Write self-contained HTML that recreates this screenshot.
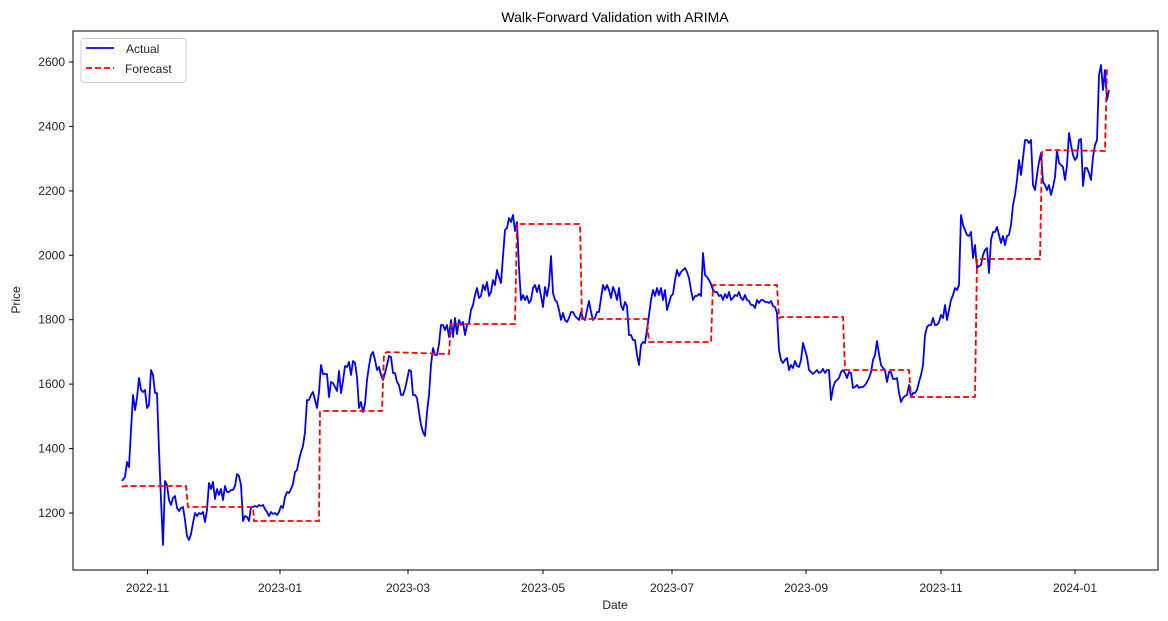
<!DOCTYPE html>
<html><head><meta charset="utf-8"><style>
html,body{margin:0;padding:0;background:#fff;}
svg{display:block;font-family:"Liberation Sans","Noto Sans CJK JP",sans-serif;}
</style></head><body>
<svg width="1168" height="621" viewBox="0 0 1168 621" xmlns="http://www.w3.org/2000/svg">
<rect width="1168" height="621" fill="#fff"/>
<text x="615" y="22" font-size="14" text-anchor="middle" fill="#000">Walk-Forward Validation with ARIMA</text>
<g stroke="#000" stroke-width="1">
<line x1="147.5" y1="570" x2="147.5" y2="574"/><line x1="280" y1="570" x2="280" y2="574"/><line x1="408" y1="570" x2="408" y2="574"/><line x1="543" y1="570" x2="543" y2="574"/><line x1="672" y1="570" x2="672" y2="574"/><line x1="806" y1="570" x2="806" y2="574"/><line x1="941" y1="570" x2="941" y2="574"/><line x1="1075" y1="570" x2="1075" y2="574"/>
<line x1="69" y1="62" x2="73" y2="62"/><line x1="69" y1="126.4" x2="73" y2="126.4"/><line x1="69" y1="190.9" x2="73" y2="190.9"/><line x1="69" y1="255.3" x2="73" y2="255.3"/><line x1="69" y1="319.7" x2="73" y2="319.7"/><line x1="69" y1="384.1" x2="73" y2="384.1"/><line x1="69" y1="448.6" x2="73" y2="448.6"/><line x1="69" y1="513" x2="73" y2="513"/>
</g>
<g font-size="12" fill="#222" text-anchor="middle">
<text x="147.5" y="592">2022-11</text><text x="280" y="592">2023-01</text><text x="408" y="592">2023-03</text><text x="543" y="592">2023-05</text><text x="672" y="592">2023-07</text><text x="806" y="592">2023-09</text><text x="941" y="592">2023-11</text><text x="1075" y="592">2024-01</text>
</g>
<g font-size="12" fill="#222" text-anchor="end">
<text x="65" y="66">2600</text><text x="65" y="130.4">2400</text><text x="65" y="194.9">2200</text><text x="65" y="259.3">2000</text><text x="65" y="323.7">1800</text><text x="65" y="388.1">1600</text><text x="65" y="452.6">1400</text><text x="65" y="517">1200</text>
</g>
<text x="615" y="609" font-size="12" text-anchor="middle" fill="#222">Date</text>
<text x="20" y="300" font-size="12" text-anchor="middle" fill="#222" transform="rotate(-90 20 300)">Price</text>
<polyline fill="none" stroke="#0000ff" stroke-width="1.8" stroke-linejoin="round" points="122,481 125,477 127,462 129,467 131,430 133,395 135,410 137,398 139,378 141,390 143,392 145,390 147,408 149,405 151,370 153,375 155,393 157,393 159,450 161,500 163,545 165,481 167,485 169,500 171,505 173,498 175,496 177,508 179,511 181,508 183,507 185,520 187,536 189,540 191,534 193,523 195,513 197,516 199,513 201,514 203,512 205,522 207,510 209,483 211,489 213,482 215,499 217,489 219,495 221,489 223,500 225,486 227,492 229,492 231,490 233,490 235,486 237,474 239,476 241,485 243,521 245,516 247,517 249,521 251,507 253,507 255,506 257,507 259,505 261,506 263,505 265,509 267,512 269,516 271,512 273,514 275,513 277,515 279,512 281,506 283,508 285,497 287,492 289,493 291,489 293,484 295,472 297,470 299,460 301,452 303,446 305,432 307,400 309,400 311,395 313,392 315,400 317,408 319,392 321,365 323,374 325,374 327,374 329,397 331,382 333,383 335,387 337,391 339,371 341,393 343,381 345,366 347,367 349,362 351,375 353,361 355,363 357,377 359,408 361,402 363,412 365,404 367,380 369,366 371,355 373,352 375,360 377,370 379,367 381,375 383,380 385,373 387,365 389,356 391,357 393,373 395,373 397,382 399,385 401,395 403,395 405,389 407,380 409,370 411,371 413,395 415,395 417,398 419,412 421,425 423,432 425,436 427,412 429,395 431,365 433,348 435,355 437,355 439,344 441,325 443,325 445,330 447,325 449,337 451,320 453,337 455,318 457,334 459,320 461,325 463,322 465,335 467,325 469,323 471,310 473,305 475,295 477,288 479,298 481,296 483,285 485,290 487,282 489,296 491,292 493,280 495,285 497,270 499,277 501,283 503,256 505,230 507,228 509,218 511,222 513,215 515,231 517,222 519,268 521,300 523,295 525,300 527,296 529,303 531,300 533,288 535,285 537,292 539,285 541,296 543,307 545,287 547,296 549,285 551,256 553,293 555,300 557,302 559,310 561,320 563,313 565,320 567,322 569,318 571,312 573,312 575,316 577,318 579,320 581,312 583,318 585,320 587,310 589,301 591,312 593,320 595,318 597,312 599,312 601,298 603,285 605,290 607,285 609,290 611,298 613,287 615,292 617,300 619,288 621,305 623,310 625,302 627,306 629,335 631,335 633,340 635,340 637,355 639,365 641,345 643,342 645,343 647,330 649,315 651,300 653,290 655,296 657,288 659,295 661,288 663,300 665,290 667,310 669,303 671,296 673,294 675,280 677,270 679,276 681,272 683,270 685,268 687,272 689,278 691,290 693,300 695,296 697,296 699,294 701,296 703,253 705,275 707,277 709,280 711,284 713,290 715,292 717,292 719,296 721,295 723,300 725,294 727,298 729,292 731,300 733,298 735,295 737,296 739,292 741,298 743,300 745,295 747,300 749,301 751,305 753,305 755,308 757,300 759,303 761,300 763,300 765,302 767,302 769,303 771,301 773,306 775,307 777,313 779,350 781,360 783,363 785,360 787,358 789,370 791,365 793,368 795,361 797,366 799,367 801,360 803,343 805,350 807,357 809,370 811,372 813,374 815,372 817,370 819,373 821,372 823,369 825,373 827,370 829,370 831,400 833,388 835,382 837,380 839,378 841,372 843,370 845,373 847,378 849,372 851,373 853,388 855,387 857,385 859,388 861,387 863,387 865,385 867,382 869,378 871,372 873,360 875,355 877,341 879,354 881,365 883,368 885,370 887,382 889,372 891,372 893,379 895,379 897,378 899,393 901,402 903,398 905,396 907,395 909,385 911,397 913,393 915,393 917,390 919,382 921,375 923,365 925,335 927,327 929,325 931,325 933,318 935,325 937,325 939,322 941,315 943,318 945,305 947,320 949,310 951,300 953,295 955,288 957,290 959,285 961,215 963,225 965,230 967,235 969,236 971,232 973,258 975,245 977,268 979,266 981,265 983,255 985,250 987,248 989,273 991,240 993,232 995,232 997,227 999,235 1001,243 1003,236 1005,245 1007,236 1009,235 1011,225 1013,205 1015,195 1017,180 1019,160 1021,175 1023,158 1025,140 1027,140 1029,143 1031,140 1033,185 1035,190 1037,175 1039,162 1041,153 1043,182 1045,185 1047,190 1049,185 1051,195 1053,187 1055,177 1057,150 1059,163 1061,165 1063,167 1065,180 1067,165 1069,133 1071,145 1073,155 1075,160 1077,157 1079,140 1081,139 1083,186 1085,168 1087,168 1089,173 1091,180 1093,157 1095,145 1097,140 1099,75 1101,65 1103,90 1105,70 1107,100 1109,90"/>
<polyline fill="none" stroke="#ff0000" stroke-width="1.8" stroke-dasharray="6,3" points="122,487 124,486 186,486 188,507 253,507 254,521 319,521 320,412 322,411 382,411 384,354 387,352 449,354 451,324 515,324 517,224 580,224 582,319 647,319 649,342 711,342 713,285 777,285 779,318 781,317 843,317 845,370 909,370 911,397 975,397 977,259 1040,259 1042,152 1046,150 1105,151 1107,68"/>
<rect x="73" y="31" width="1085" height="539" fill="none" stroke="#000" stroke-width="1"/>
<rect x="81" y="38.5" width="105" height="44" rx="3" fill="#fff" fill-opacity="0.8" stroke="#ccc" stroke-width="1"/>
<line x1="86" y1="48" x2="114" y2="48" stroke="#0000ff" stroke-width="1.8"/>
<line x1="86" y1="68" x2="114" y2="68" stroke="#ff0000" stroke-width="1.8" stroke-dasharray="6,3"/>
<text x="126" y="53" font-size="12" fill="#222">Actual</text>
<text x="125" y="73" font-size="12" fill="#222">Forecast</text>
</svg>
</body></html>
